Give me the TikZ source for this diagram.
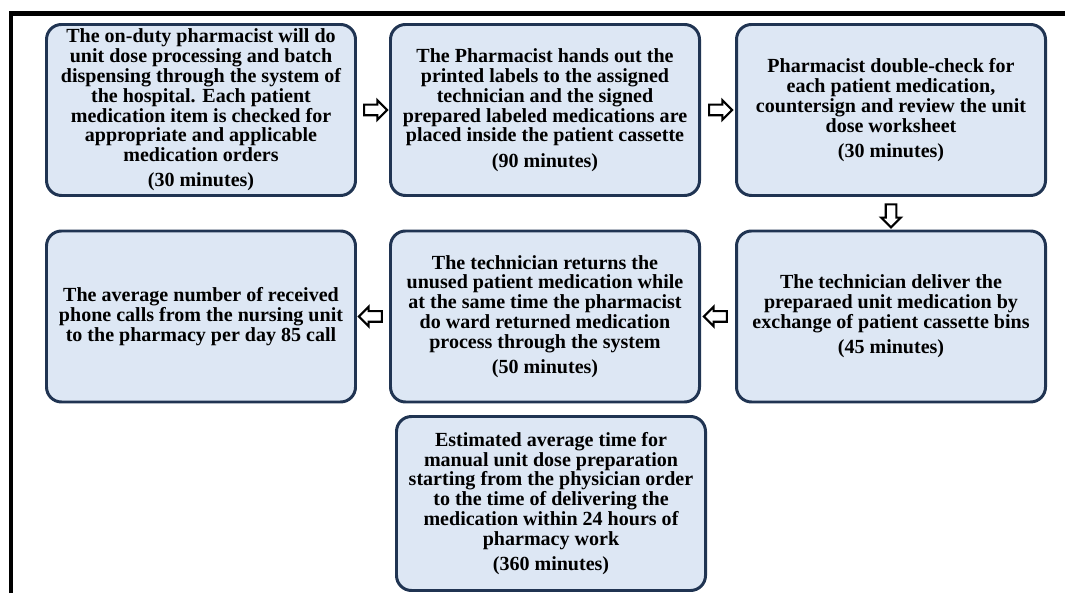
\documentclass[tikz,border=0pt]{standalone}
\usepackage{fontspec}
\setmainfont{Liberation Serif}
\usetikzlibrary{positioning, shapes.arrows}
\definecolor{boxfill}{RGB}{221,231,244}
\definecolor{boxline}{RGB}{32,52,82}

\begin{document}
\begin{tikzpicture}[
    stepbox/.style={rectangle, rounded corners=0.3cm, draw=boxline, fill=boxfill, line width=1.7pt,
                    minimum width=6.18cm, minimum height=3.42cm, align=center, inner sep=0pt,
                    font=\fontsize{11.4}{11.3}\selectfont\bfseries},
    flowarrow/.style={single arrow, draw=black, fill=white, line width=1.2pt, text height=0.17cm,
                      text depth=0pt, minimum height=0.46cm, single arrow head extend=0.09cm, inner sep=0pt},
    frame/.style={draw=black, line width=2.3pt}
]
    \useasboundingbox (0,0) rectangle (21.3,11.86);

    % Frame
    \draw[frame] (0.22,0) -- (0.22,11.59) -- (21.3,11.59);

    % First row
    \node[stepbox] (process) at (4.02, 9.66) {The on-duty pharmacist will do\\ unit dose processing and batch\\
        dispensing through the system of\\ the hospital. Each patient\\ medication item is checked for\\
        appropriate and applicable\\ medication orders\\[3pt] (30 minutes)};
    \node[stepbox] (labels) at (10.90, 9.66) {The Pharmacist hands out the\\ printed labels to the assigned\\
        technician and the signed\\ prepared labeled medications are\\ placed inside the patient cassette\\[3pt] (90 minutes)};
    \node[stepbox] (check) at (17.82, 9.66) {Pharmacist double-check for\\ each patient medication,\\
        countersign and review the unit\\ dose worksheet\\[3pt] (30 minutes)};

    % Second row
    \node[stepbox] (deliver) at (17.82, 5.53) {The technician deliver the\\ preparaed unit medication by\\
        exchange of patient cassette bins\\[3pt] (45 minutes)};
    \node[stepbox] (returns) at (10.90, 5.53) {The technician returns the\\ unused patient medication while\\
        at the same time the pharmacist\\ do ward returned medication\\ process through the system\\[3pt] (50 minutes)};
    \node[stepbox] (calls) at (4.02, 5.53) {The average number of received\\ phone calls from the nursing unit\\
        to the pharmacy per day 85 call};

    % Total time
    \node[stepbox, minimum height=3.48cm] (total) at (11.02, 1.79) {Estimated average time for\\
        manual unit dose preparation\\ starting from the physician order\\ to the time of delivering the\\
        medication within 24 hours of\\ pharmacy work\\[3pt] (360 minutes)};

    % Arrows
    \path (process) -- (labels) node[midway, flowarrow] {};
    \path (labels) -- (check) node[midway, flowarrow] {};
    \path (check) -- (deliver) node[midway, flowarrow, rotate=-90] {};
    \path (deliver) -- (returns) node[midway, flowarrow, rotate=180] {};
    \path (returns) -- (calls) node[midway, flowarrow, rotate=180] {};

\end{tikzpicture}
\end{document}
